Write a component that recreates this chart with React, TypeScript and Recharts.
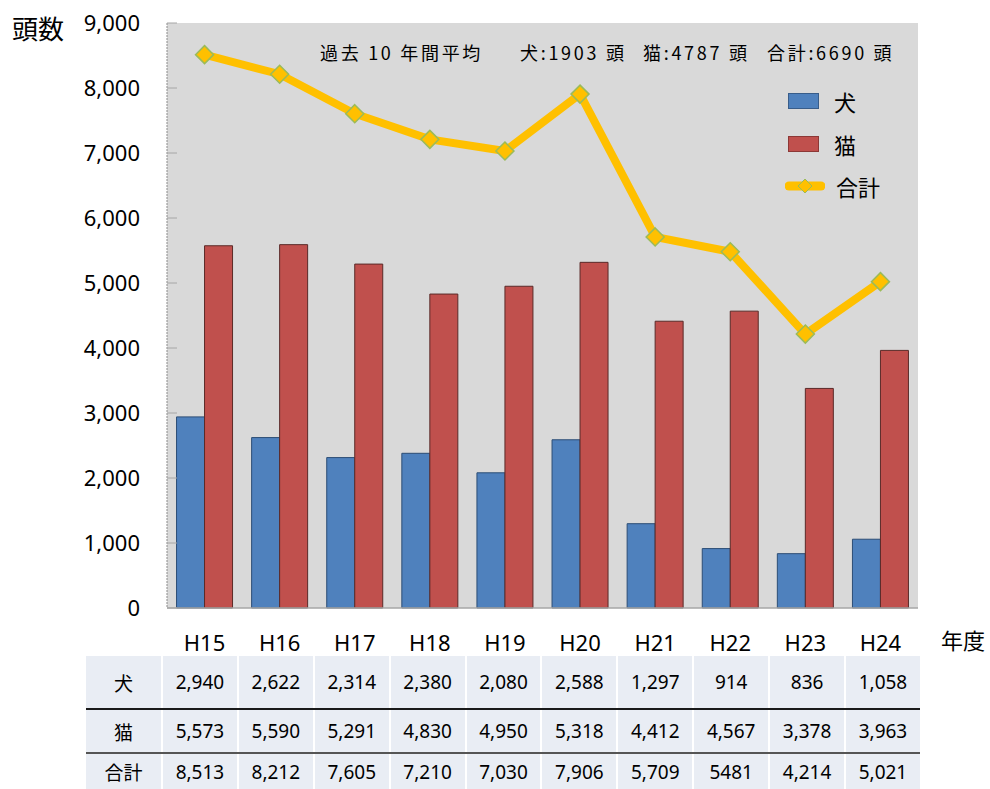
import React from 'react';
import { ComposedChart, Bar, Line, XAxis, YAxis, CartesianGrid, Legend } from 'recharts';

const years = ['H15', 'H16', 'H17', 'H18', 'H19', 'H20', 'H21', 'H22', 'H23', 'H24'];
const dogs = [2940, 2622, 2314, 2380, 2080, 2588, 1297, 914, 836, 1058];
const cats = [5573, 5590, 5291, 4830, 4950, 5318, 4412, 4567, 3378, 3963];
const totals = [8513, 8212, 7605, 7210, 7030, 7906, 5709, 5481, 4214, 5021];
const totalLabels = ['8,513', '8,212', '7,605', '7,210', '7,030', '7,906', '5,709', '5481', '4,214', '5,021'];
const yTicks = [0, 1000, 2000, 3000, 4000, 5000, 6000, 7000, 8000, 9000];

const data = years.map((y, i) => ({ year: y, dog: dogs[i], cat: cats[i], total: totals[i] }));

const FONT = '"Noto Sans", "Noto Sans CJK JP", sans-serif';
const JP = '"Noto Sans CJK JP", sans-serif';
const fmt = (v: number) => v.toLocaleString('en-US');

const PLOT_LEFT = 167;

const YTick = (props: any) => {
  const { x, y, payload } = props;
  return (
    <g>
      <line x1={PLOT_LEFT} x2={PLOT_LEFT + 10} y1={y} y2={y} stroke="#a6a6a6" strokeWidth={1} />
      <text x={x} y={y} dy="0.36em" textAnchor="end" fontSize={22} fill="#000" fontFamily={FONT}>
        {fmt(payload.value)}
      </text>
    </g>
  );
};

const XTick = (props: any) => {
  const { x, y, payload } = props;
  return (
    <text x={x} y={y + 43} textAnchor="middle" fontSize={22} fill="#000" fontFamily={FONT}>
      {payload.value}
    </text>
  );
};

const Diamond = (props: any) => {
  const { cx, cy } = props;
  if (cx == null || cy == null) return null;
  const r = 9;
  return (
    <polygon
      points={`${cx},${cy - r} ${cx + r},${cy} ${cx},${cy + r} ${cx - r},${cy}`}
      fill="#FFC000"
      stroke="#9BBB59"
      strokeWidth={1.5}
    />
  );
};

const LegendBox = () => (
  <div style={{ fontFamily: JP, fontSize: 22, color: '#000' }}>
    {[
      { name: '犬', color: '#4F81BD', border: '#385d8a' },
      { name: '猫', color: '#C0504D', border: '#8c3836' },
    ].map((it, i) => (
      <div key={it.name} style={{ position: 'absolute', left: 0, top: i * 43, height: 30, display: 'flex', alignItems: 'center' }}>
        <div style={{ width: 29, height: 14, background: it.color, border: `1px solid ${it.border}`, marginLeft: 3 }} />
        <span style={{ marginLeft: 15, lineHeight: '30px' }}>{it.name}</span>
      </div>
    ))}
    <div style={{ position: 'absolute', left: 0, top: 85, height: 30, display: 'flex', alignItems: 'center' }}>
      <svg width={40} height={20}>
        <line x1={4} x2={36} y1={10} y2={10} stroke="#FFC000" strokeWidth={9} strokeLinecap="round" />
        <polygon points="20,3 27,10 20,17 13,10" fill="#FFC000" stroke="#9BBB59" strokeWidth={1} />
      </svg>
      <span style={{ marginLeft: 11, lineHeight: '30px' }}>合計</span>
    </div>
  </div>
);

const tableRows = [
  { label: '犬', values: dogs.map(fmt), height: 52, border: '2px solid #1a1a1a' },
  { label: '猫', values: cats.map(fmt), height: 42, border: '2px solid #555' },
  { label: '合計', values: totalLabels, height: 35, border: 'none' },
];

export default function App() {
  return (
    <div style={{ position: 'absolute', left: 0, top: 0, width: 990, height: 789, background: '#fff', fontFamily: FONT }}>
      <ComposedChart
        width={990}
        height={789}
        data={data}
        margin={{ top: 23, right: 72, bottom: 121, left: 0 }}
        barCategoryGap="12.7%"
        barGap={0}
      >
        <CartesianGrid fill="#D9D9D9" horizontal={false} vertical={false} stroke="none" />
        <XAxis
          dataKey="year"
          height={60}
          tickSize={0}
          tickMargin={0}
          tick={<XTick />}
          axisLine={{ stroke: '#a6a6a6', strokeWidth: 1.5 }}
          tickLine={false}
        />
        <YAxis
          width={167}
          domain={[0, 9000]}
          ticks={yTicks}
          interval={0}
          tickSize={0}
          tickMargin={27}
          tick={<YTick />}
          axisLine={{ stroke: '#8c8c8c', strokeDasharray: '2 1' }}
          tickLine={false}
        />
        <Legend
          layout="horizontal"
          verticalAlign="middle"
          align="center"
          content={<LegendBox />}
          wrapperStyle={{ position: 'absolute', left: 785, top: 86, width: 120, height: 120 }}
        />
        <Bar dataKey="dog" name="犬" fill="#4F81BD" stroke="#2c4d75" strokeWidth={1} isAnimationActive={false} />
        <Bar dataKey="cat" name="猫" fill="#C0504D" stroke="#5a2a28" strokeWidth={1} isAnimationActive={false} />
        <Line
          dataKey="total"
          name="合計"
          type="linear"
          stroke="#FFC000"
          strokeWidth={8}
          dot={<Diamond />}
          activeDot={false}
          isAnimationActive={false}
        />
      </ComposedChart>

      <div style={{ position: 'absolute', left: 12, top: 11, fontFamily: JP, fontSize: 26, lineHeight: '34px' }}>頭数</div>
      <div style={{ position: 'absolute', left: 941, top: 624, fontFamily: JP, fontSize: 22, lineHeight: '30px' }}>年度</div>

      <div
        style={{
          position: 'absolute',
          top: 39,
          left: 0,
          fontFamily: JP,
          fontSize: 18,
          letterSpacing: 2.7,
          lineHeight: '26px',
          whiteSpace: 'nowrap',
        }}
      >
        <span style={{ position: 'absolute', left: 320 }}>過去 10 年間平均</span>
        <span style={{ position: 'absolute', left: 520 }}>犬:1903 頭</span>
        <span style={{ position: 'absolute', left: 643 }}>猫:4787 頭</span>
        <span style={{ position: 'absolute', left: 767 }}>合計:6690 頭</span>
      </div>

      <div style={{ position: 'absolute', left: 86, top: 656, width: 834 }}>
        {tableRows.map((row) => (
          <div key={row.label} style={{ display: 'flex', height: row.height, borderBottom: row.border }}>
            <div
              style={{
                width: 75,
                background: '#E9EDF4',
                display: 'flex',
                alignItems: 'center',
                justifyContent: 'center',
                fontFamily: JP,
                fontSize: 19,
              }}
            >
              {row.label}
            </div>
            {row.values.map((v, i) => (
              <div
                key={i}
                style={{
                  width: 73.9,
                  marginLeft: 2,
                  background: '#E9EDF4',
                  display: 'flex',
                  alignItems: 'center',
                  justifyContent: 'center',
                  fontSize: 19,
                }}
              >
                {v}
              </div>
            ))}
          </div>
        ))}
      </div>
    </div>
  );
}
